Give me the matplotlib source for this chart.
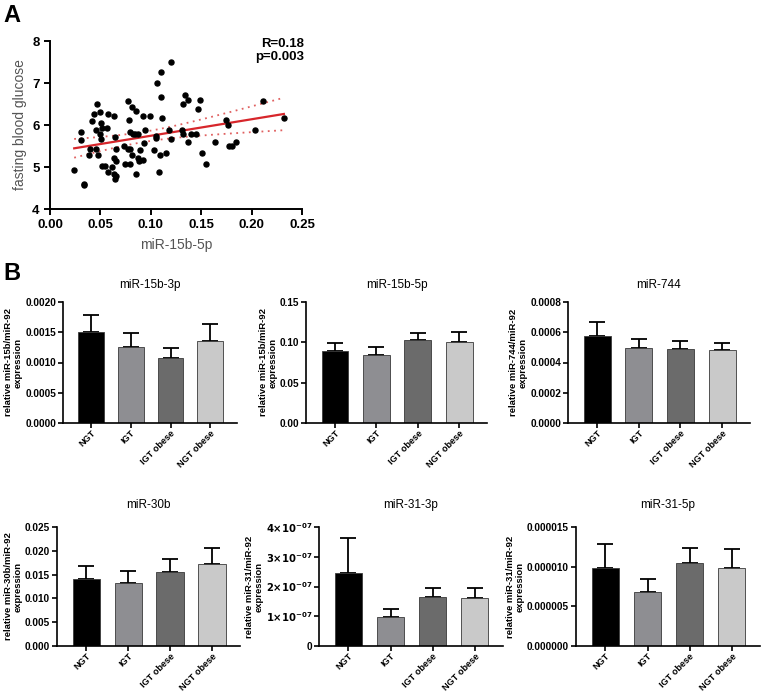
import numpy as np
import matplotlib
matplotlib.use("Agg")
import matplotlib.pyplot as plt

plt.rcParams['font.family'] = ['Liberation Sans', 'DejaVu Sans']

# ---- panel A data ----
mir15b_5p = [0.024, 0.031, 0.031, 0.034, 0.034, 0.039, 0.040, 0.042, 0.044, 0.046,
             0.046, 0.047, 0.048, 0.050, 0.050, 0.051, 0.052, 0.051, 0.052, 0.055,
             0.057, 0.058, 0.058, 0.062, 0.063, 0.064, 0.063, 0.065, 0.065, 0.063,
             0.065, 0.064, 0.073, 0.074, 0.077, 0.078, 0.079, 0.077, 0.079, 0.079,
             0.081, 0.082, 0.081, 0.084, 0.085, 0.085, 0.087, 0.087, 0.088, 0.089,
             0.092, 0.092, 0.093, 0.094, 0.099, 0.103, 0.105, 0.105, 0.106, 0.108,
             0.109, 0.110, 0.110, 0.111, 0.115, 0.118, 0.120, 0.120, 0.131, 0.132,
             0.132, 0.134, 0.137, 0.137, 0.140, 0.145, 0.147, 0.149, 0.151, 0.155,
             0.164, 0.175, 0.177, 0.178, 0.181, 0.185, 0.203, 0.211, 0.232]
glucose = [4.94, 5.83, 5.65, 4.60, 4.56, 5.28, 5.44, 6.10, 6.27, 5.89,
           5.44, 6.49, 5.28, 5.78, 6.32, 6.05, 5.94, 5.67, 5.02, 5.03,
           5.94, 6.27, 4.88, 5.00, 6.21, 5.71, 5.21, 5.14, 5.44, 4.84,
           4.79, 4.71, 5.49, 5.06, 6.56, 6.11, 5.84, 5.44, 5.44, 5.06,
           6.43, 5.78, 5.29, 5.78, 6.33, 4.84, 5.78, 5.22, 5.14, 5.40,
           6.21, 5.16, 5.56, 5.89, 6.21, 5.40, 5.75, 5.70, 7.00, 4.89,
           5.29, 6.67, 7.27, 6.17, 5.33, 5.89, 5.67, 7.49, 5.89, 6.49,
           5.78, 6.71, 6.60, 5.60, 5.78, 5.78, 6.38, 6.60, 5.33, 5.06,
           5.60, 6.11, 6.00, 5.49, 5.49, 5.60, 5.89, 6.56, 6.16]
stat_text = "R=0.18\np=0.003"

# ---- panel B data ----
groups = ["NGT", "IGT", "IGT obese", "NGT obese"]
bar_colors = ["#000000", "#8e8e92", "#6b6b6b", "#c9c9c9"]

titles = ["miR-15b-3p", "miR-15b-5p", "miR-744", "miR-30b", "miR-31-3p", "miR-31-5p"]
ylabels = ["relative miR-15b/miR-92\nexpression",
           "relative miR-15b/miR-92\nexpression",
           "relative miR-744/miR-92\nexpression",
           "relative miR-30b/miR-92\nexpression",
           "relative miR-31/miR-92\nexpression",
           "relative miR-31/miR-92\nexpression"]

means = [
    [0.00151, 0.001256, 0.00107, 0.001356],
    [0.0893, 0.0848, 0.1026, 0.1001],
    [0.000572, 0.000496, 0.000490, 0.000481],
    [0.01417, 0.01326, 0.01563, 0.01729],
    [2.47e-7, 0.99e-7, 1.66e-7, 1.61e-7],
    [9.86e-6, 6.77e-6, 10.49e-6, 9.86e-6],
]
upper = [
    [0.00179, 0.00149, 0.00124, 0.00163],
    [0.0993, 0.0943, 0.1118, 0.1126],
    [0.000669, 0.000558, 0.000541, 0.000530],
    [0.0168, 0.01583, 0.0182, 0.02063],
    [3.64e-7, 1.23e-7, 1.94e-7, 1.94e-7],
    [12.87e-6, 8.44e-6, 12.37e-6, 12.2e-6],
]
yticks = [
    [0, 0.0005, 0.0010, 0.0015, 0.0020],
    [0, 0.05, 0.10, 0.15],
    [0, 0.0002, 0.0004, 0.0006, 0.0008],
    [0, 0.005, 0.010, 0.015, 0.020, 0.025],
    [0, 1e-7, 2e-7, 3e-7, 4e-7],
    [0, 5e-6, 10e-6, 15e-6],
]
ytick_labels = [
    ["0.0000", "0.0005", "0.0010", "0.0015", "0.0020"],
    ["0.00", "0.05", "0.10", "0.15"],
    ["0.0000", "0.0002", "0.0004", "0.0006", "0.0008"],
    ["0.000", "0.005", "0.010", "0.015", "0.020", "0.025"],
    ["0", r"$\mathbf{1{\times}10^{-07}}$", r"$\mathbf{2{\times}10^{-07}}$",
     r"$\mathbf{3{\times}10^{-07}}$", r"$\mathbf{4{\times}10^{-07}}$"],
    ["0.000000", "0.000005", "0.000010", "0.000015"],
]

W, H = 761, 694


def rect(l, t, r, b):
    return [l / W, 1 - b / H, (r - l) / W, (b - t) / H]


fig = plt.figure(figsize=(W / 100, H / 100), dpi=100)

# ---------------- panel A ----------------
ax = fig.add_axes(rect(50, 41, 302, 209))
x = np.array(mir15b_5p)
y = np.array(glucose)
ax.scatter(x, y, s=13, color="black", zorder=3)

# linear fit + 95% confidence band
slope, intercept = np.polyfit(x, y, 1)
xs = np.linspace(x.min(), x.max(), 100)
yfit = slope * xs + intercept
n = len(x)
resid = y - (slope * x + intercept)
s = np.sqrt(np.sum(resid ** 2) / (n - 2))
sxx = np.sum((x - x.mean()) ** 2)
ci = 1.99 * s * np.sqrt(1 / n + (xs - x.mean()) ** 2 / sxx)
ax.plot(xs, yfit, color="#d7262b", lw=1.6, zorder=2)
ax.plot(xs, yfit + ci, color="#e06060", lw=1.3, ls=(0, (1, 2.5)), zorder=2)
ax.plot(xs, yfit - ci, color="#e06060", lw=1.3, ls=(0, (1, 2.5)), zorder=2)

ax.set_xlim(0, 0.25)
ax.set_ylim(4, 8)
ax.set_xticks([0, 0.05, 0.10, 0.15, 0.20, 0.25])
ax.set_xticklabels(["0.00", "0.05", "0.10", "0.15", "0.20", "0.25"])
ax.set_yticks([4, 5, 6, 7, 8])
for sp in ["top", "right"]:
    ax.spines[sp].set_visible(False)
for sp in ["left", "bottom"]:
    ax.spines[sp].set_linewidth(1.4)
ax.tick_params(width=1.4, length=4, labelsize=9.5)
for lab in ax.get_xticklabels() + ax.get_yticklabels():
    lab.set_fontweight("bold")
ax.set_xlabel("miR-15b-5p", fontsize=10, color="#555555", labelpad=5)
ax.set_ylabel("fasting blood glucose", fontsize=10, color="#555555", labelpad=4)
ax.text(0.252, 8.08, stat_text, ha="right", va="top", fontsize=9.5, fontweight="bold",
        linespacing=1.1)

fig.text(3 / W, 1 - 4 / H, "A", fontsize=17, fontweight="bold", va="top")
fig.text(3 / W, 1 - 262 / H, "B", fontsize=17, fontweight="bold", va="top")

# ---------------- panel B ----------------
boxes = [(63, 302, 237, 423), (306, 302, 487, 423), (568, 302, 750, 423),
         (57, 527, 240, 646), (319, 527, 503, 646), (576, 527, 760, 646)]

for i in range(6):
    ax = fig.add_axes(rect(*boxes[i]))
    pos = np.arange(len(groups))
    m = np.array(means[i])
    err = np.array(upper[i]) - m
    ax.bar(pos, m, width=0.65, color=bar_colors, edgecolor="#3a3a3a", linewidth=0.6,
           zorder=2)
    ax.errorbar(pos, m, yerr=[np.zeros_like(err), err], fmt="none", ecolor="black",
                elinewidth=1.3, capsize=6, capthick=1.3, zorder=1)
    ax.set_xlim(-0.7, 3.67)
    ax.set_ylim(0, yticks[i][-1])
    ax.set_yticks(yticks[i])
    ax.set_yticklabels(ytick_labels[i])
    ax.set_xticks(pos)
    ax.set_xticklabels(groups, rotation=45, ha="right", rotation_mode="anchor")
    for sp in ["top", "right"]:
        ax.spines[sp].set_visible(False)
    for sp in ["left", "bottom"]:
        ax.spines[sp].set_linewidth(1.2)
    ax.tick_params(width=1.2, length=3.5, labelsize=7.2, pad=1.5)
    ax.tick_params(axis="x", labelsize=6.6, pad=0.5)
    for lab in ax.get_xticklabels() + ax.get_yticklabels():
        lab.set_fontweight("bold")
    ax.set_ylabel(ylabels[i], fontsize=6.8, fontweight="bold", labelpad=1.5,
                  linespacing=1.1)
    ax.set_title(titles[i], fontsize=8.5, pad=10 if i < 3 else 14)

fig.savefig("out.png", dpi=100)
